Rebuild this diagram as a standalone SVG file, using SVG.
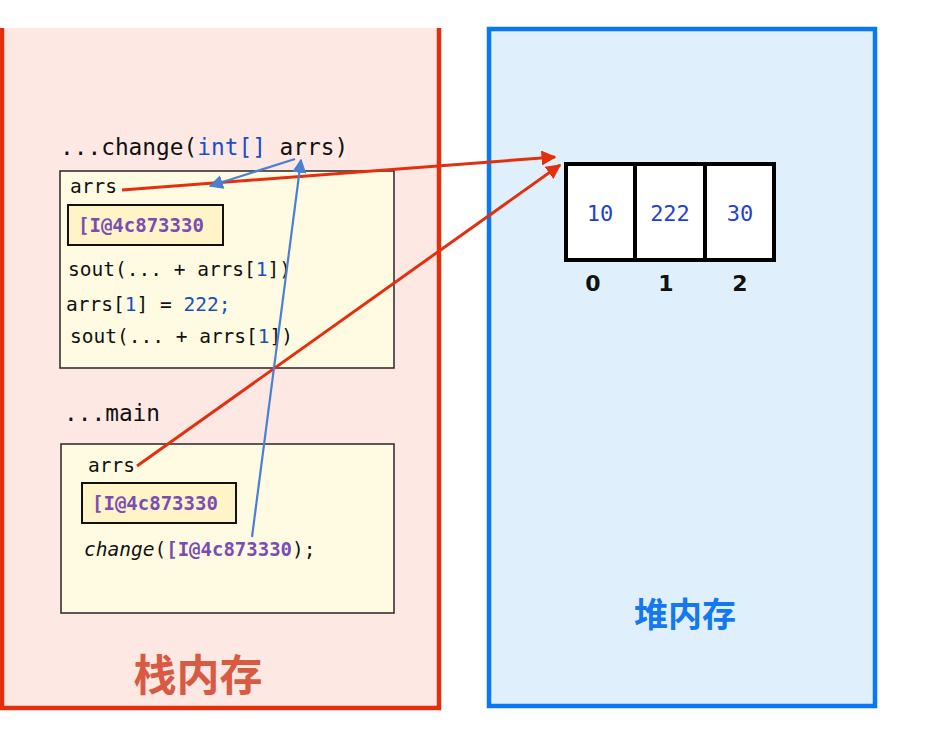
<svg xmlns="http://www.w3.org/2000/svg" width="925" height="730" viewBox="0 0 925 730">
<defs>
<style>
.mono{font-family:"DejaVu Sans Mono","Liberation Mono",monospace;fill:#111}
.code{font-size:19.5px}
.blue{fill:#1a4fc4}
.addr{font-family:"DejaVu Sans Mono","Liberation Mono",monospace;font-size:19px;font-weight:bold;fill:#7a4db3}
.frame{fill:#fffbe2;stroke:#333;stroke-width:1.6}
.abox{fill:#fff3c8;stroke:#111;stroke-width:2}
.red{stroke:#e2300f;stroke-width:3;fill:none}
.bl{stroke:#4a80cf;stroke-width:2.2;fill:none}
.num{font-family:"DejaVu Sans Mono","Liberation Mono",monospace;font-size:22px;fill:#1f3fd8;text-anchor:middle}
.idx{font-family:"DejaVu Sans","Liberation Sans",sans-serif;font-size:22px;font-weight:bold;fill:#111;text-anchor:middle}
</style>
<marker id="ar" viewBox="0 0 10 10" refX="9" refY="5" markerWidth="5" markerHeight="5" orient="auto" markerUnits="strokeWidth"><path d="M0,0 L10,5 L0,10 z" fill="#e2300f"/></marker>
<marker id="ab" viewBox="0 0 10 10" refX="9" refY="5" markerWidth="6.5" markerHeight="6.5" orient="auto" markerUnits="strokeWidth"><path d="M0,0 L10,5 L0,10 z" fill="#4a80cf"/></marker>
</defs>
<rect width="925" height="730" fill="#ffffff"/>
<g id="stack">
<rect x="2" y="28" width="437" height="680" fill="#fde8e4"/>
<path d="M2,28 V708 H439 V28" fill="none" stroke="#e2300f" stroke-width="4.5"/>
<text x="198" y="691" text-anchor="middle" font-family="'Noto Sans CJK SC',sans-serif" font-size="43" font-weight="bold" fill="#d95a42">栈内存</text>
</g>
<g id="heap">
<rect x="489" y="29" width="386" height="677" fill="#dff0fc" stroke="#0a78f2" stroke-width="4.5"/>
<text x="685" y="627" text-anchor="middle" font-family="'Noto Sans CJK SC',sans-serif" font-size="34" font-weight="bold" fill="#1479ef">堆内存</text>
</g>
<g id="change-frame">
<text x="60" y="155" class="mono" font-size="22.8">...change(<tspan class="blue">int[]</tspan> arrs)</text>
<rect x="60" y="171" width="334" height="197" class="frame"/>
<text x="70" y="193" class="mono code">arrs</text>
<rect x="68" y="205" width="155" height="40" class="abox"/>
<text x="78" y="232" class="addr">[I@4c873330</text>
<text x="68" y="276" class="mono code">sout(... + arrs[<tspan class="blue">1</tspan>])</text>
<text x="66" y="311" class="mono code">arrs[<tspan class="blue">1</tspan>] = <tspan class="blue">222;</tspan></text>
<text x="70" y="343" class="mono code">sout(... + arrs[<tspan class="blue">1</tspan>])</text>
</g>
<g id="main-frame">
<text x="64" y="421" class="mono" font-size="22.8">...main</text>
<rect x="61" y="444" width="333" height="169" class="frame"/>
<text x="88" y="472" class="mono code">arrs</text>
<rect x="82" y="483" width="154" height="40" class="abox"/>
<text x="92" y="510" class="addr">[I@4c873330</text>
<text x="84" y="556" class="mono code"><tspan font-style="italic">change</tspan>(<tspan class="addr">[I@4c873330</tspan>);</text>
</g>
<g id="array">
<rect x="566" y="164" width="208" height="96" fill="#ffffff" stroke="#000" stroke-width="4"/>
<line x1="635" y1="164" x2="635" y2="260" stroke="#000" stroke-width="4"/>
<line x1="705" y1="164" x2="705" y2="260" stroke="#000" stroke-width="4"/>
<text x="600" y="221" class="num">10</text>
<text x="670" y="221" class="num">222</text>
<text x="740" y="221" class="num">30</text>
<text x="593" y="291" class="idx">0</text>
<text x="666" y="291" class="idx">1</text>
<text x="740" y="291" class="idx">2</text>
</g>
<g id="connectors">
<line x1="122" y1="190" x2="555" y2="157" class="red" marker-end="url(#ar)"/>
<line x1="137" y1="466" x2="560" y2="165" class="red" marker-end="url(#ar)"/>
<line x1="295" y1="159" x2="210" y2="186" class="bl" marker-end="url(#ab)"/>
<line x1="252" y1="537" x2="301" y2="160" class="bl" marker-end="url(#ab)"/>
</g>
</svg>
